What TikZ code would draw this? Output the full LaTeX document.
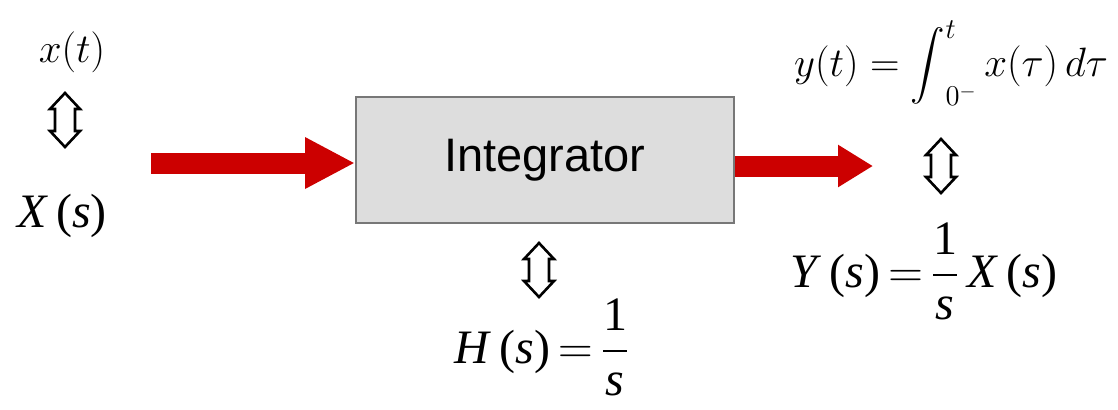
\RequirePackage{fix-cm}
\documentclass[tikz,border=0pt]{standalone}
\usepackage{amsmath}
\usepackage{fontspec}
\newfontfamily\arialfont{Liberation Sans}
\newfontfamily\timesfont{Liberation Serif}
\usetikzlibrary{arrows.meta}
\definecolor{arrowred}{HTML}{CC0000}
\definecolor{boxfill}{HTML}{DDDDDD}
\definecolor{boxline}{HTML}{777777}
\newcommand{\onefrac}[1]{$\dfrac{\hbox{\timesfont 1}}{\hbox{\timesfont\itshape #1}}$}
\newcommand{\myint}{\mathop{\vcenter{\hbox{\fontsize{17}{20}\selectfont$\displaystyle\int$}}}\nolimits}
\tikzset{
  bigmath/.style={inner sep=0pt, font=\timesfont\fontsize{24}{28}\selectfont},
  smallmath/.style={inner sep=0pt, font=\fontsize{20.5}{25}\selectfont},
  blockbox/.style={draw=boxline, line width=1pt, fill=boxfill, minimum width=189pt, minimum height=63pt, inner sep=0pt, font=\arialfont\fontsize{23.5}{28}\selectfont},
  flowarrow/.style={draw=arrowred, line width=10.5pt},
  updown/.pic={\draw[line width=1.3pt, line join=miter, fill=white]
     (0,-27) -- (15,-11) -- (10,-11) -- (10,11) -- (15,11) -- (0,27)
     -- (-15,11) -- (-10,11) -- (-10,-11) -- (-15,-11) -- cycle;}
}
\begin{document}
\begin{tikzpicture}[x=0.5pt,y=-0.5pt]
\useasboundingbox (0,0) rectangle (1118,409);
\node[blockbox] (box) at (545,160) {Integrator};
% left labels
\node[smallmath, anchor=base] (xt) at (72,62) {$x(t)$};
\pic at (65,120) {updown};
\node[bigmath, anchor=base] (Xs) at (62,227) {\textit{X}\,(\textit{s})};
% input arrow
\coordinate (in) at (151,163);
\draw[flowarrow, -{Triangle[length=25pt,width=24pt]}] (in) -- (in -| box.west);
% output arrow
\coordinate (out) at (873,166);
\draw[flowarrow, -{Triangle[length=17.5pt,width=20pt]}] (box.east |- out) -- (out);
% right labels
\node[smallmath, anchor=base] (yt) at (951,76) {$y(t)=\myint_{0^-}^{t} x(\tau)\,d\tau$};
\pic at (941,166) {updown};
\node[bigmath, anchor=base] (Ys) at (924,287) {\textit{Y}\,(\textit{s})\,$=$\,\onefrac{s}\,\textit{X}\,(\textit{s})};
% bottom
\pic at (539,270) {updown};
\node[bigmath, anchor=base] (Hs) at (542,363) {\textit{H}\,(\textit{s})\,$=$\,\onefrac{s}};
\end{tikzpicture}
\end{document}
